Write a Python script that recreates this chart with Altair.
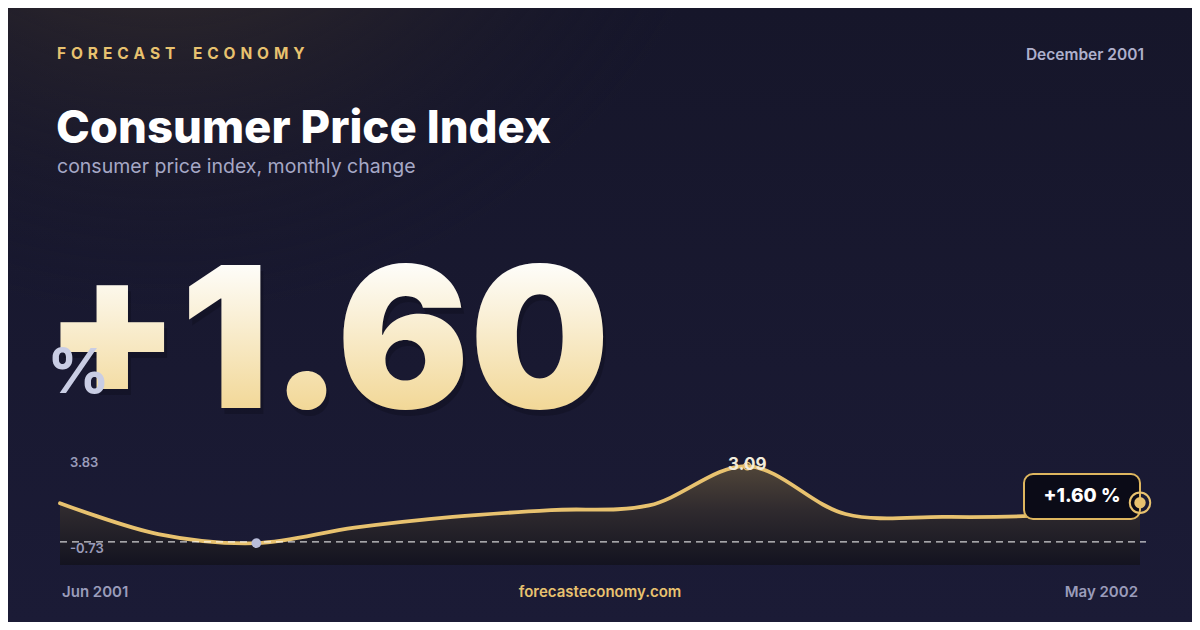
import altair as alt
import pandas as pd

# ---------------- data ----------------
months = ["Jun 2001", "Jul 2001", "Aug 2001", "Sep 2001", "Oct 2001", "Nov 2001",
          "Dec 2001", "Jan 2002", "Feb 2002", "Mar 2002", "Apr 2002", "May 2002"]
values = [1.58, 0.32, -0.05, 0.58, 1.02, 1.30, 1.49, 3.09, 1.14, 1.02, 1.09, 1.60]
range_labels = ["3.83", "-0.73"]
y_domain = [-0.94, 3.83]
brand = "FORECAST ECONOMY"
title = "Consumer Price Index"
subtitle = "consumer price index, monthly change"
period = "December 2001"
site = "forecasteconomy.com"
unit = "%"

# ---------------- layout ----------------
W, H = 1184, 614
OFF = 8


def px(v):
    return v - OFF


GOLD = "#e8c26f"
MUTED = "#9a9cba"

df = pd.DataFrame({"i": list(range(len(values))), "month": months, "v": values})
imin = values.index(min(values))
imax = values.index(max(values))
ilast = len(values) - 1
df_min = df.iloc[[imin]].reset_index(drop=True)
df_max = df.iloc[[imax]].reset_index(drop=True)
df_last = df.iloc[[ilast]].reset_index(drop=True)
one = pd.DataFrame({"k": [0]})
zero_df = pd.DataFrame({"v": [0.0]})

X = alt.X("i:Q", scale=alt.Scale(domain=[0, len(values) - 1], range=[px(60), px(1140)]), axis=None)
Y = alt.Y("v:Q", scale=alt.Scale(domain=y_domain, range=[px(565), px(448)]), axis=None)


def label(txt, x, y, size, color, weight="normal", align="left", baseline="alphabetic",
          font="Inter"):
    return alt.Chart(one).mark_text(
        text=txt, fontSize=size, color=color, fontWeight=weight, align=align,
        baseline=baseline, font=font
    ).encode(x=alt.value(px(x)), y=alt.value(px(y)))


def lin(stops):
    return {"gradient": "linear", "x1": 0, "y1": 0, "x2": 0, "y2": 1,
            "stops": [{"offset": o, "color": c} for o, c in stops]}


def spaced(s):
    # wide tracking for the brand line
    return " \u200a".join(s.replace(" ", "\u2002"))


bg = alt.Chart(one).mark_rect(
    fill=lin([(0, "#16162a"), (1, "#1b1b36")])
).encode(x=alt.value(0), x2=alt.value(W), y=alt.value(0), y2=alt.value(H))

glow = alt.Chart(one).mark_rect(
    fill={"gradient": "radial", "x1": 0.13, "y1": 0.0, "r1": 0, "x2": 0.13, "y2": 0.0, "r2": 0.5,
          "stops": [{"offset": 0, "color": "rgba(84,68,48,1)"},
                    {"offset": 0.4, "color": "rgba(56,47,43,0.7)"},
                    {"offset": 1, "color": "rgba(22,22,42,0)"}]}
).encode(x=alt.value(0), x2=alt.value(W), y=alt.value(0), y2=alt.value(H))

area = alt.Chart(df).mark_area(
    interpolate="catmull-rom",
    fill=lin([(0, "#504539"), (0.45, "#2f2a2e"), (1, "#131320")])
).encode(x=X, y=Y, y2=alt.datum(y_domain[0]))

line = alt.Chart(df).mark_line(
    interpolate="catmull-rom", color=GOLD, strokeWidth=3.8, strokeCap="round"
).encode(x=X, y=Y)

zero = alt.Chart(zero_df).mark_rule(
    color="#ffffff", strokeDash=[7, 5], strokeWidth=1.2, opacity=0.8
).encode(x=alt.value(px(60)), x2=alt.value(px(1146)), y=Y)

pmin = alt.Chart(df_min).mark_circle(size=95, color="#b9bdd9", opacity=1).encode(x=X, y=Y)
pmax = alt.Chart(df_max).mark_point(size=50, color=GOLD, strokeWidth=1.5, filled=False, opacity=1).encode(x=X, y=Y)
tmax = alt.Chart(df_max).mark_text(
    fontSize=17, fontWeight="bold", color="#f2ecdc", font="Inter", baseline="alphabetic", dy=4
).encode(x=X, y=Y, text=alt.Text("v:Q", format=".2f"))

box = alt.Chart(one).mark_rect(
    fill="#0b0b17", stroke="#deb65f", strokeWidth=2, cornerRadius=9
).encode(x=alt.value(px(1024)), x2=alt.value(px(1140)), y=alt.value(px(474)), y2=alt.value(px(519)))
box_text = label(f"{values[-1]:+.2f} {unit}", 1082, 496, 19, "#ffffff", weight=800,
                 align="center", baseline="middle")

ring = alt.Chart(df_last).mark_point(size=420, color=GOLD, strokeWidth=2, filled=False, opacity=1).encode(x=X, y=Y)
dot = alt.Chart(df_last).mark_circle(size=130, color=GOLD, opacity=1).encode(x=X, y=Y)

big_text = f"{values[-1]:+.2f}"
big = alt.Chart(one).mark_text(
    text=big_text, fontSize=197, fontWeight=900, font="Inter",
    align="left", baseline="alphabetic",
    fill=lin([(0.2, "#fefdf9"), (0.8, "#f2d898")])
).encode(x=alt.value(px(44)), y=alt.value(px(408)))
big_shadow = alt.Chart(one).mark_text(
    text=big_text, fontSize=197, fontWeight=900, font="Inter",
    align="left", baseline="alphabetic", color="#05050c", opacity=0.22
).encode(x=alt.value(px(47)), y=alt.value(px(414)))

layers = [
    bg, glow,
    label(spaced(brand), 57, 59, 15.5, GOLD, weight="bold"),
    label(period, 1144, 60, 15.5, "#aeb0cc", weight=600, align="right"),
    label(title, 56, 143, 45.5, "#ffffff", weight=800),
    label(subtitle, 57, 173, 19.5, "#a6a8c6"),
    big_shadow, big,
    label(unit, 47, 393, 62, "#c9cde4", weight="bold"),
    area, line, zero,
    label(range_labels[0], 70, 467, 13, MUTED, weight=600),
    label(range_labels[1], 70, 553, 13, MUTED, weight=600),
    pmin, pmax, tmax,
    box, box_text, ring, dot,
    label(months[0], 62, 597, 15, MUTED, weight=600),
    label(site, 600, 597, 15, GOLD, weight=600, align="center"),
    label(months[-1], 1138, 597, 15, MUTED, weight=600, align="right"),
]

chart = alt.layer(*layers).properties(
    width=W, height=H, padding=0, background="#16162a",
    autosize=alt.AutoSizeParams(type="none")
).configure_view(stroke=None)

chart.save("out.html", embed_options={"renderer": "svg", "actions": False})
